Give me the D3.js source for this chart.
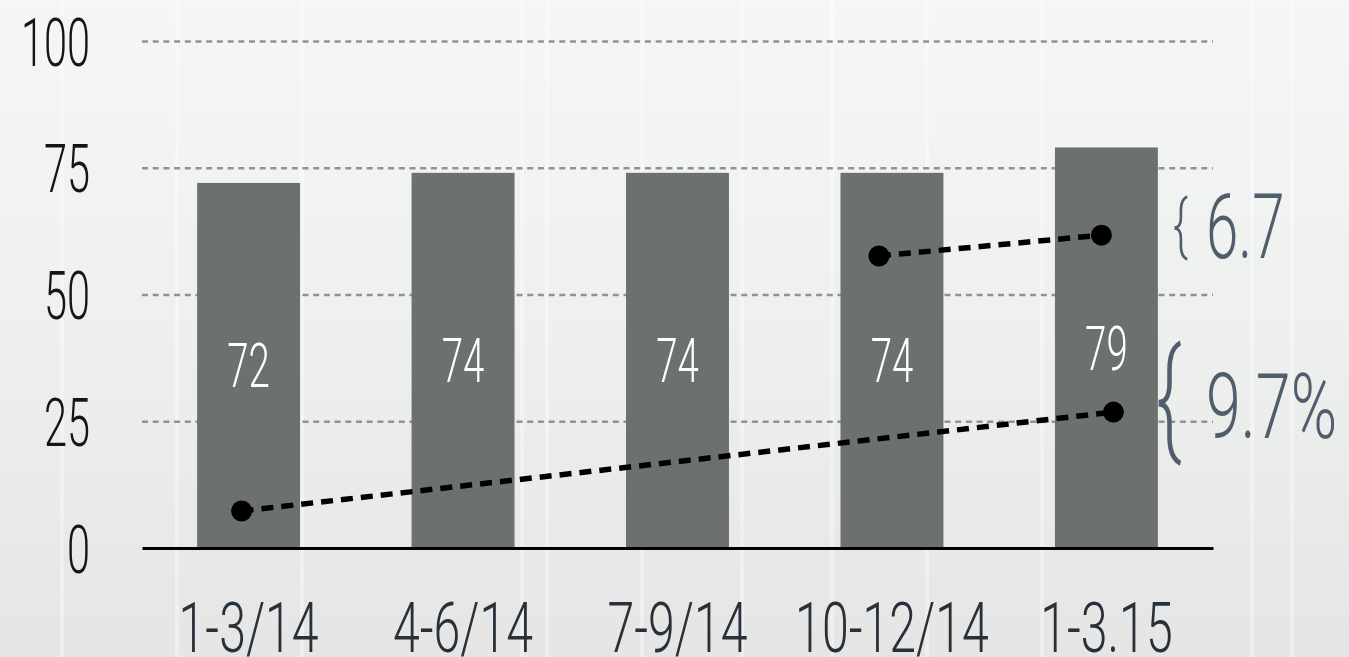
<!DOCTYPE html>
<html>
<head>
<meta charset="utf-8">
<script src="https://cdn.jsdelivr.net/npm/d3@7"></script>
<style>
  html, body { margin: 0; padding: 0; overflow: hidden; }
  body { width: 1349px; height: 657px; }
  text { font-family: Roboto, "Liberation Sans", sans-serif; font-weight: 300; }
</style>
</head>
<body>
<svg id="chart" width="1349" height="657"></svg>
<script>
// ---- data ----
const categories = ["1-3/14", "4-6/14", "7-9/14", "10-12/14", "1-3.15"];
const values = [72, 74, 74, 74, 79];
const valueLabels = ["72", "74", "74", "74", "79"];
const yTicks = [0, 25, 50, 75, 100];
const lowerTrend = [{cat: "1-3/14", v: 7.3}, {cat: "1-3.15", v: 26.8}];
const upperTrend = [{cat: "10-12/14", v: 57.6}, {cat: "1-3.15", v: 61.7}];
const annotations = [{brace: "{", text: "6.7"}, {brace: "{", text: "9.7%"}];

// ---- layout ----
const W = 1349, H = 657;
const mLeft = 142, mRight = 1213, mTop = 41, mBottom = 548;
const SX = 0.62; // horizontal condense factor for text

const svg = d3.select("#chart");
const defs = svg.append("defs");
const grad = defs.append("linearGradient").attr("id", "bg").attr("x1", 0).attr("y1", 0).attr("x2", 0).attr("y2", 1);
grad.append("stop").attr("offset", "0%").attr("stop-color", "#f4f7f5");
grad.append("stop").attr("offset", "50%").attr("stop-color", "#eef0ee");
grad.append("stop").attr("offset", "100%").attr("stop-color", "#e4e5e4");
svg.append("rect").attr("width", W).attr("height", H).attr("fill", "url(#bg)");

// faint background texture (window mullions)
const bgLines = [60, 175, 300, 520, 545, 640, 740, 830, 925, 1040, 1250, 1290];
svg.append("g").selectAll("rect").data(bgLines).join("rect")
  .attr("x", d => d).attr("y", 0).attr("width", 4).attr("height", H)
  .attr("fill", "#ffffff").attr("opacity", 0.35);

const x = d3.scaleBand().domain(categories).range([mLeft, mRight]).paddingInner(0.52).paddingOuter(0.257);
const y = d3.scaleLinear().domain([0, 100]).range([mBottom, mTop]);

// gridlines via axis
const yAxis = d3.axisLeft(y).tickValues(yTicks).tickSize(-(mRight - mLeft)).tickPadding(52);
const gy = svg.append("g").attr("transform", `translate(${mLeft},0)`).call(yAxis);
gy.select(".domain").remove();
gy.selectAll(".tick line")
  .attr("stroke", "#929292").attr("stroke-width", 2.5).attr("stroke-dasharray", "6,4.7")
  .attr("opacity", d => d === 0 ? 0 : 1);
gy.selectAll(".tick text")
  .attr("fill", "#151515").attr("font-size", 67).attr("font-family", "Roboto").attr("font-weight", 300)
  .attr("x", -52 / SX).attr("dy", "0.36em")
  .attr("transform", `scale(${SX},1)`);

// bars
svg.append("g").selectAll("rect").data(values).join("rect")
  .attr("x", (d, i) => x(categories[i]))
  .attr("y", d => y(d))
  .attr("width", x.bandwidth())
  .attr("height", d => y(0) - y(d))
  .attr("fill", "#6c716e");

// bar value labels at bar middle
svg.append("g").selectAll("text").data(values).join("text")
  .attr("transform", (d, i) => `translate(${x(categories[i]) + x.bandwidth() / 2},${(y(d) + y(0)) / 2 + 22}) scale(${SX},1)`)
  .attr("text-anchor", "middle").attr("fill", "#ffffff").attr("font-size", 62)
  .text((d, i) => valueLabels[i]);

// x axis
const xAxis = d3.axisBottom(x).tickSize(0).tickSizeOuter(0);
const gx = svg.append("g").attr("transform", `translate(0,${mBottom})`).call(xAxis);
gx.select(".domain").attr("stroke", "#000").attr("stroke-width", 3);
gx.selectAll(".tick text")
  .attr("fill", "#28313a").attr("font-size", 71).attr("font-family", "Roboto").attr("font-weight", 300)
  .attr("y", 0).attr("dy", 0)
  .attr("transform", `translate(0,104) scale(0.68,1)`);

// trend lines
const offsets = {lower: [-7, 7], upper: [-13, -5]};
function drawTrend(pts, offs) {
  const cx = (d, i) => x(d.cat) + x.bandwidth() / 2 + offs[i];
  const line = d3.line().x((d, i) => cx(d, i)).y(d => y(d.v));
  svg.append("path").datum(pts).attr("d", line)
    .attr("fill", "none").attr("stroke", "#000").attr("stroke-width", 5.5).attr("stroke-dasharray", "12,8");
  svg.append("g").selectAll("circle").data(pts).join("circle")
    .attr("cx", (d, i) => cx(d, i)).attr("cy", d => y(d.v)).attr("r", 10.5).attr("fill", "#000");
}
drawTrend(lowerTrend, offsets.lower);
drawTrend(upperTrend, offsets.upper);

// annotations
const annColor = "#4f5d6d";
const ann = svg.append("g");
ann.append("text").attr("transform", `translate(1173,248) scale(0.68,1)`)
  .attr("fill", annColor).attr("font-size", 66).text(annotations[0].brace);
ann.append("text").attr("transform", `translate(1206,258) scale(0.64,1)`)
  .attr("fill", annColor).attr("font-size", 91).text(annotations[0].text);
ann.append("text").attr("transform", `translate(1156,440) scale(0.6,1)`)
  .attr("fill", annColor).attr("font-size", 128).attr("font-weight", 400).text(annotations[1].brace);
ann.append("text").attr("transform", `translate(1206,438) scale(0.69,1)`)
  .attr("fill", annColor).attr("font-size", 91).text(annotations[1].text);
</script>
</body>
</html>
